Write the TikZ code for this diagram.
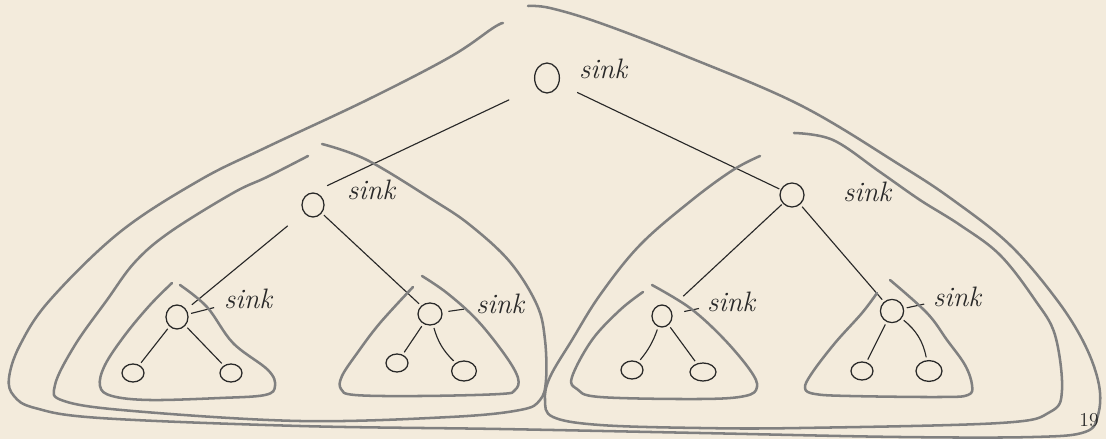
\documentclass[tikz,border=0pt]{standalone}
\usepackage{xcolor}
\usepackage{tikz}
\usetikzlibrary{shapes.geometric}
\definecolor{paper}{RGB}{243,235,220}
\definecolor{ink}{RGB}{40,40,40}
\definecolor{pencil}{RGB}{128,128,128}
\newcommand{\sinktext}{\fontsize{20}{22}\selectfont\itshape sink}

\begin{document}
\begin{tikzpicture}[x=0.025cm,y=-0.025cm,
    vertex/.style={draw=ink,ellipse,line width=0.9pt,inner sep=0pt,minimum width=0.55cm,minimum height=0.6cm},
    leaf/.style={vertex,minimum width=0.55cm,minimum height=0.45cm},
    sinklabel/.style={text=ink,inner sep=0pt},
    edge/.style={draw=ink,line width=0.8pt,shorten <=2pt,shorten >=2pt},
    tick/.style={draw=ink,line width=0.8pt,shorten <=2pt,shorten >=0.25cm},
    loopline/.style={draw=pencil,line width=1.8pt,line cap=round,line join=round}]
        \fill[paper] (0,0) rectangle (1106,439);
        \useasboundingbox (0,0) rectangle (1106,439);
        % tree
        \node[vertex,minimum width=0.62cm,minimum height=0.75cm] (root) at (547,78) {};
        \node[vertex] (nl) at (313,205) {};
        \node[vertex,minimum width=0.6cm] (nr) at (792,195) {};
        \node[vertex] (nll) at (177,317) {};
        \node[vertex,minimum width=0.6cm,minimum height=0.55cm] (nlr) at (430,314) {};
        \node[vertex,minimum width=0.5cm,minimum height=0.55cm] (nrl) at (662,316) {};
        \node[vertex,minimum width=0.58cm,minimum height=0.58cm] (nrr) at (892,311) {};
        \node[leaf] (lll) at (133,373) {};
        \node[leaf] (llr) at (231,373) {};
        \node[leaf] (lrl) at (397,363) {};
        \node[leaf,minimum width=0.62cm,minimum height=0.5cm] (lrr) at (464,371) {};
        \node[leaf] (rll) at (632,370) {};
        \node[leaf,minimum width=0.65cm] (rlr) at (703,372) {};
        \node[leaf] (rrl) at (862,371) {};
        \node[leaf,minimum width=0.65cm,minimum height=0.52cm] (rrr) at (929,371) {};
        \draw[edge,shorten <=0.75cm,shorten >=0.39cm] (root.220) -- (nl.north);
        \draw[edge,shorten <=0.5cm,shorten >=1pt] (root) -- (nr);
        \draw[edge,shorten <=0.52cm,shorten >=0.18cm] (nl) -- (nll);
        \draw[edge] (nl) -- (nlr);
        \draw[edge,shorten <=1pt,shorten >=0.45cm] (nr) -- (nrl);
        \draw[edge] (nr) -- (nrr);
        \draw[edge] (nll) -- (lll);
        \draw[edge] (nll) -- (llr);
        \draw[edge] (nlr) -- (lrl);
        \draw[edge] (nlr) to[bend right=15] (lrr);
        \draw[edge] (nrl) to[bend left=10] (rll);
        \draw[edge] (nrl) -- (rlr);
        \draw[edge] (nrr) -- (rrl);
        \draw[edge] (nrr) to[bend left=20] (rrr);
        % sink labels
        \node[sinklabel] (sroot) at (603,69) {\sinktext};
        \node[sinklabel] (sl) at (371,190) {\sinktext};
        \node[sinklabel] (sr) at (867,192) {\sinktext};
        \node[sinklabel] (sll) at (248,299) {\sinktext};
        \node[sinklabel] (slr) at (500,304) {\sinktext};
        \node[sinklabel] (srl) at (731,302) {\sinktext};
        \node[sinklabel] (srr) at (957,297) {\sinktext};
        \draw[tick] (nll) -- (sll);
        \draw[tick,shorten <=0.15cm,shorten >=0.3cm] (nlr) -- (slr);
        \draw[tick,shorten <=0.3cm,shorten >=0.2cm] (nrl) -- (srl);
        \draw[tick,shorten >=0.22cm] (nrr) -- (srr);
        % outer loop round the whole tree
        \draw[loopline] plot[smooth,tension=0.6] coordinates {(503,23) (493,28) (450,57) (367,100) (267,147) (200,180) (120,232) (50,300) (20,345) (9,378) (14,396) (35,408) (100,418) (300,426) (500,429) (700,433) (900,437) (1033,437) (1085,432) (1098,415) (1099,385) (1085,345) (1057,300) (1010,245) (953,200) (900,165) (800,105) (683,55) (600,23) (550,8) (528,6)};
        % left and right subtree loops
        \draw[loopline] plot[smooth,tension=0.6] coordinates {(308,156) (267,177) (233,193) (170,232) (135,262) (107,300) (75,345) (55,385) (64,401) (133,411) (300,421) (450,417) (520,410) (540,400) (546,380) (545,340) (537,305) (510,262) (470,225) (433,200) (367,160) (322,144)};
        \draw[loopline] plot[smooth,tension=0.6] coordinates {(760,156) (733,170) (692,200) (640,245) (600,295) (572,340) (550,377) (545,400) (553,417) (600,425) (700,428) (800,428) (1000,423) (1050,412) (1062,390) (1055,335) (1035,300) (1000,255) (960,225) (920,200) (880,172) (833,140) (794,133)};
        % leaf triangles
        \draw[loopline] plot[smooth,tension=0.6] coordinates {(172,283) (150,305) (125,335) (105,365) (100,386) (112,396) (150,400) (220,398) (265,395) (275,386) (268,370) (233,343) (207,307) (180,285)};
        \draw[loopline] plot[smooth,tension=0.6] coordinates {(413,287) (380,323) (358,352) (342,376) (341,389) (355,395) (420,396) (500,394) (515,390) (518,378) (505,355) (477,320) (447,293) (422,276)};
        \draw[loopline] plot[smooth,tension=0.6] coordinates {(643,292) (620,310) (592,340) (572,377) (577,389) (600,397) (700,399) (745,396) (757,387) (750,370) (723,338) (690,308) (652,285)};
        \draw[loopline] plot[smooth,tension=0.6] coordinates {(877,293) (862,313) (835,343) (812,373) (805,388) (815,394) (850,396) (940,397) (968,395) (972,385) (965,365) (947,340) (927,313) (890,280)};
        % page number
        \node[text=ink,font=\fontsize{14}{16}\selectfont] (page) at (1089,420) {19};
      \end{tikzpicture}
\end{document}
